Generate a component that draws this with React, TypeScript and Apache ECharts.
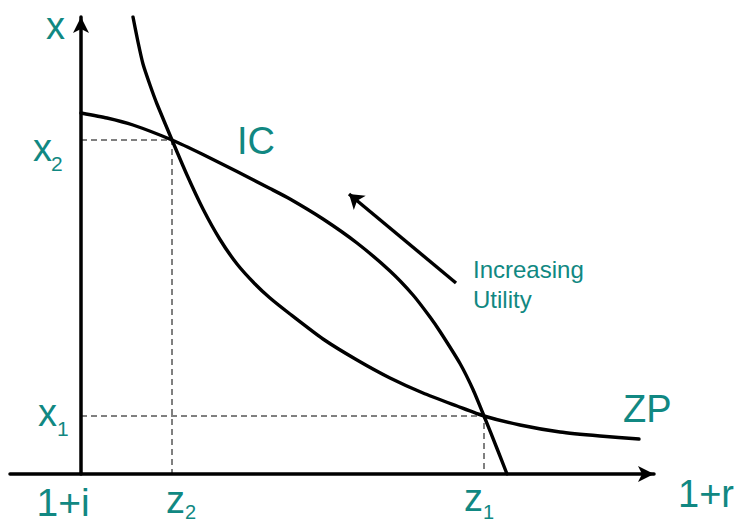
import React, { useEffect, useRef } from "react";
import * as echarts from "echarts";

// Curve readings (x: distance right of the 1+i axis, y: height above the 1+r axis)
const icCurve: [number, number][] = [
  [0, 361], [26, 356], [52, 349], [91, 334], [122, 319.5], [156, 302.5], [189, 285.5],
  [209, 275], [242, 255], [276, 231], [309, 203], [332, 179], [349, 157],
  [359, 142.5], [379, 110.5], [392, 84.5], [403, 58], [416, 25.5], [426, 0],
];
const zpCurve: [number, number][] = [
  [52, 457], [57, 432], [62, 410], [69, 389], [76, 370], [91, 334], [106, 299], [122, 265],
  [139, 234.5], [156, 210], [174, 190], [189, 176], [209, 160], [242, 135],
  [276, 114], [309, 96], [342, 81], [376, 68], [403, 58], [439, 49],
  [479, 42], [519, 38], [558, 35],
];
// Intersection points
const z2 = 91;
const x2 = 334;
const z1 = 403;
const x1 = 58;
// Increasing utility arrow: tail, tip
const utilityArrow: [number, number][] = [[375, 191], [268, 280]];
// Axis extents
const xRange = [-71, 573];
const yRange = [0, 457];

// Texts
const yAxisTitle = "x";
const xAxisTitle = "1+r";
const originLabel = "1+i";
const icLabel = "IC";
const zpLabel = "ZP";
const arrowLabel = ["Increasing", "Utility"];

const TEAL = "#118882";
const FONT = '"Liberation Sans", Arial, sans-serif';

export default function App() {
  const ref = useRef<HTMLDivElement>(null);
  useEffect(() => {
    if (!ref.current) return;
    const chart = echarts.init(ref.current, undefined, { renderer: "svg" });
    const axisLine = {
      onZero: true,
      symbol: ["none", "arrow"],
      symbolSize: [12, 16],
      lineStyle: { color: "#000", width: 3.5 },
    };
    const curveStyle = { color: "#000", width: 3.4, cap: "round", join: "round" };
    const dashStyle = { color: "#000", width: 1, type: [6, 4] };
    chart.setOption({
      animation: false,
      grid: { left: 10, right: 85, top: 17, bottom: 49 },
      xAxis: {
        type: "value", min: xRange[0], max: xRange[1],
        axisLine, axisTick: { show: false }, axisLabel: { show: false },
        splitLine: { show: false },
      },
      yAxis: {
        type: "value", min: yRange[0], max: yRange[1],
        axisLine, axisTick: { show: false }, axisLabel: { show: false },
        splitLine: { show: false },
      },
      series: [
        { type: "line", data: [[0, x2], [z2, x2], [z2, 0]], showSymbol: false, lineStyle: dashStyle, silent: true, z: 1 },
        { type: "line", data: [[0, x1], [z1, x1], [z1, 0]], showSymbol: false, lineStyle: dashStyle, silent: true, z: 1 },
        { type: "line", name: icLabel, data: icCurve, smooth: 0.2, showSymbol: false, lineStyle: curveStyle, silent: true, z: 3 },
        { type: "line", name: zpLabel, data: zpCurve, smooth: 0.2, showSymbol: false, lineStyle: curveStyle, silent: true, z: 3 },
        {
          type: "line", data: [], silent: true,
          markLine: {
            silent: true, symbol: ["none", "arrow"], symbolSize: 14,
            label: { show: false },
            lineStyle: { color: "#000", width: 3.4, type: "solid" },
            data: [[{ coord: utilityArrow[0] }, { coord: utilityArrow[1] }]],
          },
        },
      ],
    });

    const px = (x: number, y: number) =>
      chart.convertToPixel({ gridIndex: 0 }, [x, y]) as number[];
    const O = px(0, 0);
    const top = px(0, yRange[1]);
    const xEnd = px(xRange[1], 0);
    const P2 = px(z2, x2);
    const P1 = px(z1, x1);
    const zpEnd = px(zpCurve[zpCurve.length - 1][0], zpCurve[zpCurve.length - 1][1]);
    const tail = px(utilityArrow[0][0], utilityArrow[0][1]);

    const t = (text: string, x: number, y: number, size: number, align: string) => ({
      type: "text", x, y, silent: true,
      style: {
        text, fill: TEAL, font: `${size}px ${FONT}`,
        align, verticalAlign: "middle", textAlign: align, textVerticalAlign: "middle",
      },
    });

    chart.setOption({
      graphic: [
        t(yAxisTitle, O[0] - 16, top[1] + 9, 38, "right"),
        t("x", O[0] - 29, P2[1] + 8, 38, "right"),
        t("2", O[0] - 30, P2[1] + 23, 21, "left"),
        t("x", O[0] - 24, P1[1] - 3, 38, "right"),
        t("1", O[0] - 24, P1[1] + 12, 21, "left"),
        t(originLabel, O[0] - 18, O[1] + 28, 39, "center"),
        t("z", P2[0] + 13, O[1] + 26, 38, "right"),
        t("2", P2[0] + 13, O[1] + 38, 20, "left"),
        t("z", P1[0] - 1, O[1] + 24, 38, "right"),
        t("1", P1[0] - 1, O[1] + 38, 20, "left"),
        t(xAxisTitle, xEnd[0] + 24, O[1] + 20, 38, "left"),
        t(icLabel, P2[0] + 65, P2[1] + 1, 38, "left"),
        t(zpLabel, zpEnd[0] - 16, zpEnd[1] - 30, 38, "left"),
        t(arrowLabel[0], tail[0] + 17, tail[1] - 14, 24, "left"),
        t(arrowLabel[1], tail[0] + 17, tail[1] + 16, 24, "left"),
      ],
    });
    return () => chart.dispose();
  }, []);
  return (
    <div
      ref={ref}
      style={{ position: "fixed", left: 0, top: 0, width: 739, height: 523, background: "#fff" }}
    />
  );
}
